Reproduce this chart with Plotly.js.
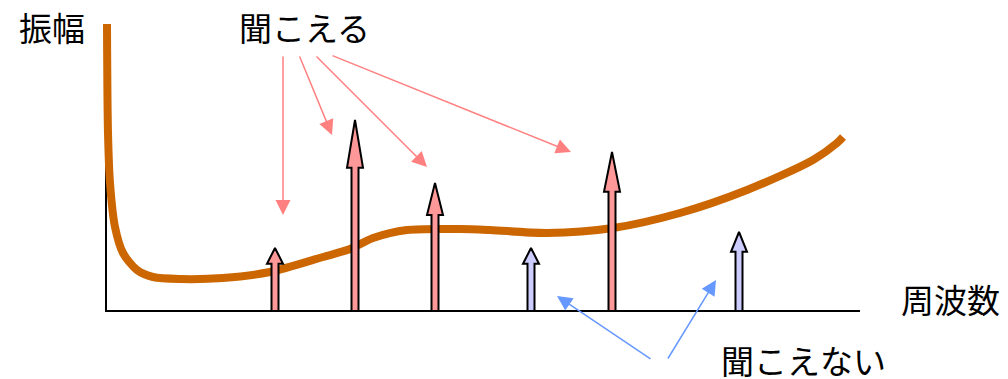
<!DOCTYPE html>
<html lang="ja">
<head>
  <meta charset="UTF-8">
  <title>振幅と周波数</title>
  <script src="https://cdn.plot.ly/plotly-3.0.1.min.js"></script>
  <style>
    body { margin: 0; background: white; }
    #chart { width: 1008px; height: 379px; }
  </style>
</head>
<body>
  <div id="chart"></div>
  <script>
    // Hearing threshold curve (frequency, amplitude)
    const curveX = [1, 2, 4, 9, 17, 31, 47, 74, 117, 164, 217, 244, 267, 301, 354, 384, 441, 507, 574, 641, 707, 731, 737];
    const curveY = [287, 178, 128, 84, 58, 41, 34, 32, 33, 39, 54, 62, 73, 81, 82, 81, 78, 83, 98, 121, 151, 168, 174];

    // Sound components: frequency, amplitude, audible or not
    const toneX = [169, 249, 329, 425, 506, 633];
    const toneY = [63, 191, 128, 63, 159, 79];
    const audible = [true, true, true, false, true, false];

    // Axis extents
    const freqMax = 754;
    const ampMax = 287;

    // Labels
    const labelAmp = '振幅';
    const labelFreq = '周波数';
    const labelHear = '聞こえる';
    const labelNoHear = '聞こえない';

    // Pointer arrows: tail and tip
    const hearTailX = [177, 193, 209, 225];
    const hearTailY = [256, 256, 256, 256];
    const hearTipX = [177, 226, 321, 465];
    const hearTipY = [96, 176, 144, 159];
    const noHearTailX = [546, 561];
    const noHearTailY = [-49, -49];
    const noHearTipX = [451, 610];
    const noHearTipY = [15, 31];

    const font = '"Noto Sans CJK JP", "Noto Sans", sans-serif';

    const traces = [];

    // axes
    traces.push({
      x: [0, 0, freqMax], y: [ampMax, 0, 0],
      mode: 'lines', line: { color: 'black', width: 2 },
      hoverinfo: 'skip'
    });

    // threshold curve
    traces.push({
      x: curveX, y: curveY,
      mode: 'lines',
      line: { color: '#cc6600', width: 8, shape: 'spline', smoothing: 0.8 },
      hoverinfo: 'skip'
    });

    // arrows for each tone
    const shaftHalf = 3.5;
    const headHalf = 8;
    toneX.forEach((x, i) => {
      const h = toneY[i];
      const hl = h * 0.25;
      traces.push({
        x: [x - shaftHalf, x - shaftHalf, x - headHalf, x, x + headHalf, x + shaftHalf, x + shaftHalf, x - shaftHalf],
        y: [0, h - hl, h - hl, h, h - hl, h - hl, 0, 0],
        mode: 'lines',
        fill: 'toself',
        fillcolor: audible[i] ? '#ff9999' : '#ccccff',
        line: { color: 'black', width: 2 },
        hoverinfo: 'skip'
      });
    });

    // baseline on top of arrow bottoms
    traces.push({
      x: [0, freqMax], y: [0, 0],
      mode: 'lines', line: { color: 'black', width: 2 },
      hoverinfo: 'skip'
    });

    const annotations = [];
    function pointer(tx, ty, hx, hy, color, w) {
      annotations.push({
        x: hx, y: hy, ax: tx, ay: ty,
        xref: 'x', yref: 'y', axref: 'x', ayref: 'y',
        text: '', showarrow: true,
        arrowhead: 2, arrowsize: 2 / w * 1.5, arrowwidth: w,
        arrowcolor: color, standoff: 0, startstandoff: 0
      });
    }
    hearTipX.forEach((_, i) => pointer(hearTailX[i], hearTailY[i], hearTipX[i], hearTipY[i], '#ff8080', 1.5));
    noHearTipX.forEach((_, i) => pointer(noHearTailX[i], noHearTailY[i], noHearTipX[i], noHearTipY[i], '#6699ff', 1.5));

    function label(text, x, y) {
      annotations.push({
        x: x, y: y, xref: 'x', yref: 'y',
        text: text, showarrow: false,
        font: { family: font, size: 33, color: 'black' }
      });
    }
    label(labelAmp, -54, 284);
    label(labelHear, 198, 284);
    label(labelFreq, 844, 12);
    label(labelNoHear, 697, -49);

    const layout = {
      width: 1008, height: 379,
      margin: { l: 0, r: 0, t: 0, b: 0 },
      paper_bgcolor: 'white', plot_bgcolor: 'white',
      showlegend: false,
      xaxis: { range: [-106, 902], visible: false, fixedrange: true },
      yaxis: { range: [-68, 311], visible: false, fixedrange: true },
      annotations: annotations
    };

    Plotly.newPlot('chart', traces, layout, { displayModeBar: false, staticPlot: true });
  </script>
</body>
</html>
